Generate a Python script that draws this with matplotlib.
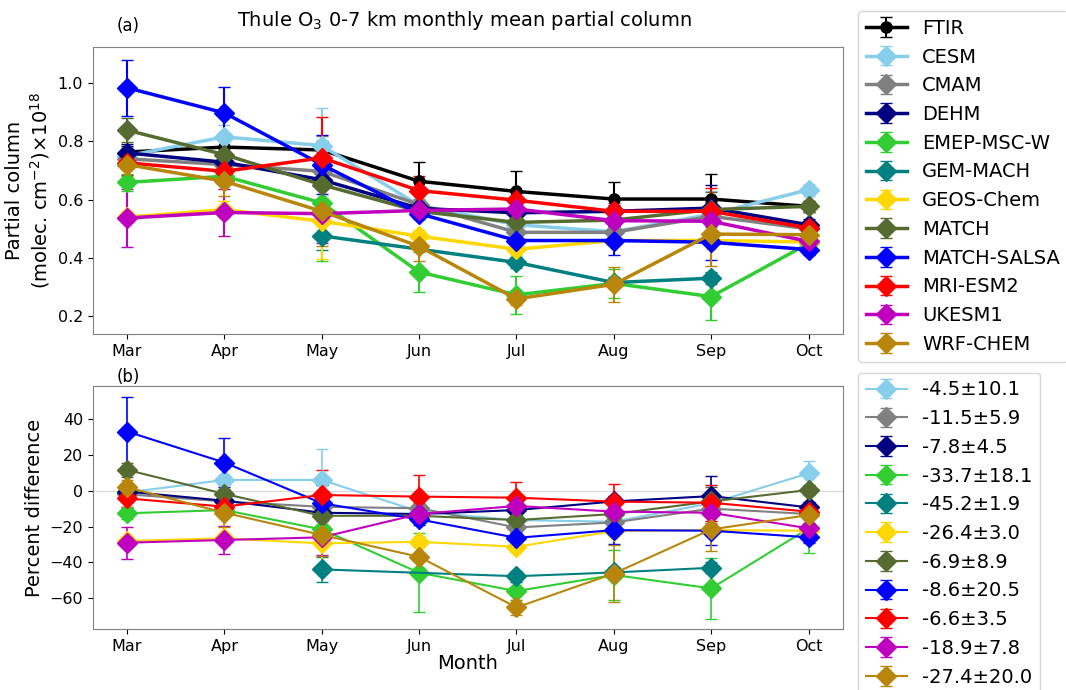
import numpy as np
import matplotlib
matplotlib.use('Agg')
import matplotlib.pyplot as plt

months = ['Mar', 'Apr', 'May', 'Jun', 'Jul', 'Aug', 'Sep', 'Oct']
nan = np.nan

names = ['FTIR', 'CESM', 'CMAM', 'DEHM', 'EMEP-MSC-W', 'GEM-MACH', 'GEOS-Chem',
         'MATCH', 'MATCH-SALSA', 'MRI-ESM2', 'UKESM1', 'WRF-CHEM']
colors = ['black', 'skyblue', 'gray', 'navy', 'limegreen', 'teal', 'gold',
          'darkolivegreen', 'blue', 'red', 'm', 'darkgoldenrod']

# partial column (x 1e18 molec cm-2)
ftir = [0.763, 0.78, 0.77, 0.663, 0.628, 0.602, 0.602, 0.577]
cesm = [0.75, 0.815, 0.785, 0.58, 0.514, 0.49, 0.55, 0.634]
cmam = [0.74, 0.72, 0.697, 0.583, 0.488, 0.488, 0.543, 0.50]
dehm = [0.76, 0.728, 0.668, 0.57, 0.555, 0.56, 0.571, 0.514]
emep = [0.659, 0.68, 0.589, 0.352, 0.274, 0.313, 0.268, 0.45]
gem = [nan, nan, 0.476, nan, 0.385, 0.316, 0.331, nan]
geos = [0.54, 0.566, 0.526, 0.475, 0.43, 0.46, 0.46, 0.455]
match = [0.838, 0.754, 0.651, 0.56, 0.522, 0.53, 0.566, 0.577]
salsa = [0.983, 0.897, 0.72, 0.552, 0.46, 0.46, 0.454, 0.429]
mri = [0.726, 0.697, 0.743, 0.631, 0.598, 0.56, 0.56, 0.503]
ukesm = [0.537, 0.556, 0.552, 0.563, 0.568, 0.528, 0.526, 0.457]
wrf = [0.72, 0.663, 0.56, 0.44, 0.26, 0.31, 0.482, 0.48]

ftir_err = [0.02, 0.03, 0.03, 0.065, 0.07, 0.06, 0.085, 0.02]
cesm_err = [0.03, 0.04, 0.13, 0.03, 0.03, 0.03, 0.08, 0.02]
cmam_err = [0.03, 0.03, 0.12, 0.02, 0.02, 0.02, 0.05, 0.02]
dehm_err = [0.03, 0.03, 0.10, 0.02, 0.02, 0.02, 0.08, 0.02]
emep_err = [0.03, 0.03, 0.20, 0.07, 0.065, 0.05, 0.08, 0.02]
gem_err = [nan, nan, 0.05, nan, 0.02, 0.02, 0.02, nan]
geos_err = [0.02, 0.03, 0.13, 0.02, 0.02, 0.02, 0.03, 0.02]
match_err = [0.04, 0.03, 0.10, 0.02, 0.02, 0.02, 0.06, 0.02]
salsa_err = [0.095, 0.09, 0.10, 0.02, 0.02, 0.05, 0.06, 0.02]
mri_err = [0.04, 0.03, 0.14, 0.05, 0.03, 0.03, 0.08, 0.02]
ukesm_err = [0.10, 0.08, 0.10, 0.02, 0.02, 0.02, 0.04, 0.02]
wrf_err = [0.04, 0.05, 0.12, 0.05, 0.02, 0.06, 0.11, 0.03]

# percent difference vs FTIR
cesm_pd = [-1, 6, 6, -11.7, -16.4, -17.3, -7, 9.7]
cmam_pd = [-2, -6, -9, -9.8, -20.5, -17.7, -10, -13]
dehm_pd = [-0.5, -5.6, -12.3, -13, -10.8, -6, -3, -9.3]
emep_pd = [-12.6, -10.8, -21.6, -45.8, -56, -47, -54.5, -21]
gem_pd = [nan, nan, -43.9, nan, -47.7, -45.6, -43, nan]
geos_pd = [-28, -26.6, -29.4, -28.5, -31.3, -22.5, -22, -22.3]
match_pd = [11.6, -1.8, -14, -14, -16.4, -13, -6, 0.4]
salsa_pd = [33, 15.7, -7, -16, -26.3, -22, -22.3, -26]
mri_pd = [-4.3, -8.9, -2.4, -3.3, -3.9, -6.1, -6.7, -11.7]
ukesm_pd = [-29, -27.5, -26, -13, -8.5, -11.7, -12.3, -21]
wrf_pd = [1.9, -12.3, -24.7, -36.9, -65.1, -46.2, -21.6, -13.6]

cesm_pde = [3, 3, 17, 3, 3, 3, 10, 7]
cmam_pde = [3, 3, 12, 3, 3, 3, 8, 3]
dehm_pde = [3, 3, 10, 3, 3, 3, 11, 3]
emep_pde = [3, 3, 20, 22, 5, 14, 17, 14]
gem_pde = [nan, nan, 7, nan, 3, 3, 3, nan]
geos_pde = [3, 3, 14, 3, 3, 3, 3, 3]
match_pde = [4, 3, 10, 3, 3, 3, 8, 3]
salsa_pde = [19, 13.5, 10, 3, 3, 8, 8, 3]
mri_pde = [5, 3, 14, 12, 9, 10, 10, 3]
ukesm_pde = [9, 8, 10, 3, 3, 3, 6, 3]
wrf_pde = [4, 8, 12, 6, 4, 16, 12, 5]

pd_labels = ['-4.5\u00b110.1', '-11.5\u00b15.9', '-7.8\u00b14.5', '-33.7\u00b118.1',
             '-45.2\u00b11.9', '-26.4\u00b13.0', '-6.9\u00b18.9', '-8.6\u00b120.5',
             '-6.6\u00b13.5', '-18.9\u00b17.8', '-27.4\u00b120.0']

pc = [ftir, cesm, cmam, dehm, emep, gem, geos, match, salsa, mri, ukesm, wrf]
pc_err = [ftir_err, cesm_err, cmam_err, dehm_err, emep_err, gem_err, geos_err,
          match_err, salsa_err, mri_err, ukesm_err, wrf_err]
pd = [cesm_pd, cmam_pd, dehm_pd, emep_pd, gem_pd, geos_pd, match_pd, salsa_pd,
      mri_pd, ukesm_pd, wrf_pd]
pd_err = [cesm_pde, cmam_pde, dehm_pde, emep_pde, gem_pde, geos_pde, match_pde,
          salsa_pde, mri_pde, ukesm_pde, wrf_pde]

x = np.arange(len(months))

fig = plt.figure(figsize=(10.66, 6.9), dpi=100)
ax1 = fig.add_axes([0.0872, 0.516, 0.7033, 0.416])
ax2 = fig.add_axes([0.0872, 0.088, 0.7033, 0.3526])

for i in range(len(names)):
    y = np.array(pc[i], dtype=float)
    e = np.array(pc_err[i], dtype=float)
    ok = ~np.isnan(y)  # skip missing months so the line joins up
    mk = 'o' if i == 0 else 'D'
    ms = 8 if i == 0 else 10
    ax1.errorbar(x[ok], y[ok], yerr=e[ok], color=colors[i], marker=mk, ms=ms,
                 lw=2.5, capsize=4, elinewidth=1.5, label=names[i])

ax2.axhline(0, color='0.85', lw=0.8, zorder=0)
for i in range(len(pd)):
    y = np.array(pd[i], dtype=float)
    e = np.array(pd_err[i], dtype=float)
    ok = ~np.isnan(y)
    ax2.errorbar(x[ok], y[ok], yerr=e[ok], color=colors[i + 1], marker='D', ms=10,
                 lw=1.5, capsize=4, elinewidth=1.2, label=pd_labels[i])

for ax in (ax1, ax2):
    ax.set_xticks(x)
    ax.set_xticklabels(months)
    ax.set_xlim(-0.35, 7.35)
    ax.tick_params(labelsize=11.5)
    for s in ax.spines.values():
        s.set_color('0.5')

ax1.set_ylim(0.14, 1.123)
ax1.set_yticks([0.2, 0.4, 0.6, 0.8, 1.0])
ax2.set_ylim(-77.3, 58.4)
ax2.set_yticks([-60, -40, -20, 0, 20, 40])

ax1.set_ylabel('Partial column\n(molec. cm$^{-2}$)$\\times$10$^{18}$', fontsize=14)
ax2.set_ylabel('Percent difference', fontsize=14)
ax2.set_xlabel('Month', fontsize=14, labelpad=0)

fig.text(0.436, 0.97, 'Thule O$_3$ 0-7 km monthly mean partial column', fontsize=14,
         ha='center', va='center')
fig.text(0.12, 0.963, '(a)', fontsize=12, ha='center', va='center')
fig.text(0.12, 0.453, '(b)', fontsize=12, ha='center', va='center')

fig.legend(*ax1.get_legend_handles_labels(), loc='upper left',
           bbox_to_anchor=(0.805, 0.984), fontsize=14, borderaxespad=0,
           handlelength=2.1, labelspacing=0.5)
fig.legend(*ax2.get_legend_handles_labels(), loc='upper left',
           bbox_to_anchor=(0.805, 0.46), fontsize=14, borderaxespad=0,
           handlelength=2.1, labelspacing=0.5)

fig.savefig('out.png', dpi=100)
